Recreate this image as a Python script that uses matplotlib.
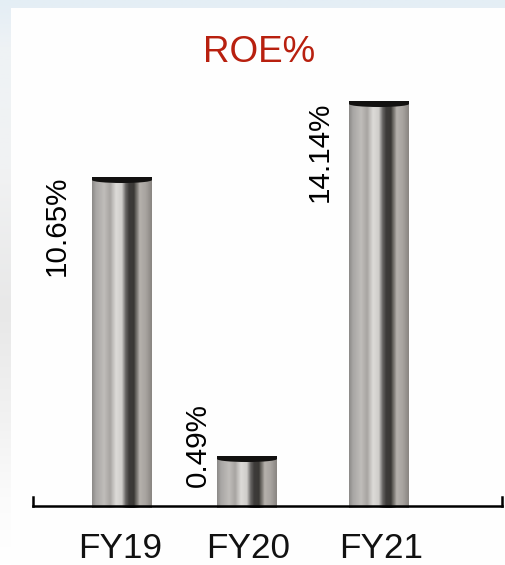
import numpy as np
import matplotlib
matplotlib.use("Agg")
import matplotlib.pyplot as plt
from matplotlib.colors import LinearSegmentedColormap
from matplotlib.patches import Ellipse, Rectangle

# -------- DATA --------
categories = ["FY19", "FY20", "FY21"]
labels = ["10.65%", "0.49%", "14.14%"]
# drawn bar heights, they are not to scale with the labels
bar_heights = [329, 50, 405]
# ----------------------

W, H = 506, 565
BASE_Y = 506
BAR_W = 60
bar_x = [122, 247, 379]
tick_x = [120, 248, 381]
label_x = [57, 198, 320]
label_y = [226, 445, 152]

metal = LinearSegmentedColormap.from_list("metal", [
    (0.00, "#8c8a88"), (0.06, "#a8a6a4"), (0.20, "#c0bdba"), (0.30, "#a8a5a2"),
    (0.40, "#dddbd8"), (0.50, "#cfcdca"), (0.56, "#6a6866"), (0.62, "#3e3c3a"),
    (0.70, "#3a3835"), (0.75, "#77746f"), (0.80, "#b5b1ac"), (0.90, "#a8a4a0"),
    (1.00, "#8a8682"),
])

plt.rcParams["font.family"] = ["Liberation Sans", "DejaVu Sans"]
fig = plt.figure(figsize=(W / 100, H / 100), dpi=100)

# ---- Background ----
bg = fig.add_axes([0, 0, 1, 1], zorder=0)
bg.set_xlim(0, W)
bg.set_ylim(H, 0)
bg.axis("off")
strip = LinearSegmentedColormap.from_list("strip", [
    (0.00, "#e4eef5"), (0.08, "#eef2f5"), (0.30, "#f1f2f3"), (0.55, "#e8e8e8"),
    (0.75, "#f2f2f2"), (0.88, "#fbfbfb"), (1.00, "#ffffff"),
])
grad = np.linspace(0, 1, 256).reshape(-1, 1)
bg.imshow(grad, cmap=strip, extent=[0, W, H, 0], aspect="auto")
bg.add_patch(Rectangle((11, 8), W - 11, H - 8, facecolor="#fefefe", edgecolor="none"))

# ---- Chart ----
ax = fig.add_axes([33 / W, (H - BASE_Y) / H, (502 - 33) / W, (BASE_Y - 8) / H], zorder=1)
ax.patch.set_alpha(0)

bars = ax.bar(bar_x, np.array(bar_heights) + 2, width=BAR_W, bottom=-2,
              facecolor="none", edgecolor="none", clip_on=False)
shade = np.linspace(0, 1, 120).reshape(1, -1)
for rect, h in zip(bars, bar_heights):
    x0 = rect.get_x()
    im = ax.imshow(shade, cmap=metal, aspect="auto", zorder=1,
                   extent=[x0, x0 + BAR_W, -2, h])
    im.set_clip_path(rect)
    # dark top of the cylinder
    cap = Ellipse((x0 + BAR_W / 2, h - 3), BAR_W, 6, facecolor="#121110",
                  edgecolor="none", zorder=2)
    ax.add_patch(cap)
    band = Rectangle((x0, h - 3), BAR_W, 3, facecolor="#121110", edgecolor="none", zorder=2)
    ax.add_patch(band)
ax.set_xlim(33, 502)
ax.set_ylim(0, BASE_Y - 8)

for x, y, txt in zip(label_x, label_y, labels):
    ax.text(x, BASE_Y - y, txt, rotation=90, ha="center", va="center",
            fontsize=21.3, color="black")

ax.set_xticks(tick_x, categories)
ax.tick_params(axis="x", length=0, pad=19, labelsize=25.3, labelcolor="#111111")
ax.set_yticks([])

# axis line with short upturned ends
ax.spines["top"].set_visible(False)
for side in ["left", "right"]:
    ax.spines[side].set_bounds(0, 9)
    ax.spines[side].set_linewidth(1.8)
ax.spines["bottom"].set_linewidth(1.8)
for spine in ax.spines.values():
    spine.set_zorder(3)

fig.text(259 / W, 1 - 52 / H, "ROE%", color="#b8200f", fontsize=26.5,
         ha="center", va="center", zorder=2)

fig.savefig("out.png", dpi=100)
